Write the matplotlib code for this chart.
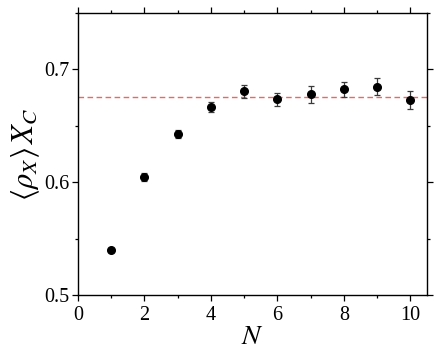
import matplotlib.pyplot as plt
from matplotlib.ticker import MultipleLocator

plt.rcParams['font.family'] = 'serif'
plt.rcParams['font.serif'] = ['Liberation Serif', 'DejaVu Serif']
plt.rcParams['mathtext.fontset'] = 'stix'

n_values = [1, 2, 3, 4, 5, 6, 7, 8, 9, 10]
rho_xc = [0.540, 0.6045, 0.643, 0.6665, 0.6805, 0.6735, 0.678, 0.6823, 0.6847, 0.6726]
rho_err = [0.002, 0.0035, 0.0035, 0.0045, 0.0055, 0.006, 0.0074, 0.007, 0.0078, 0.008]
limit_value = 0.6755

fig = plt.figure(figsize=(4.36, 3.54), dpi=100)
ax = fig.add_axes([0.179, 0.167, 0.800, 0.796])

ax.axhline(limit_value, color='#f06464', lw=1.0, ls=(0, (4, 2.5)), zorder=1)
ax.errorbar(n_values, rho_xc, yerr=rho_err, fmt='o', color='black', ms=5.5,
            ecolor='#3a3a3a', elinewidth=0.9, capsize=2.5, capthick=0.9, zorder=3)

ax.set_xlim(0, 10.5)
ax.set_ylim(0.5, 0.75)
ax.xaxis.set_major_locator(MultipleLocator(2))
ax.xaxis.set_minor_locator(MultipleLocator(1))
ax.yaxis.set_major_locator(MultipleLocator(0.1))
ax.yaxis.set_minor_locator(MultipleLocator(0.05))
ax.tick_params(which='both', direction='out', top=True, right=True,
               labelsize=14.5, width=0.9)
ax.tick_params(axis='x', pad=4)
ax.tick_params(axis='y', pad=2)
ax.tick_params(which='major', length=4)
ax.tick_params(which='minor', length=2)
for s in ax.spines.values():
    s.set_linewidth(1.0)

ax.set_xlabel(r'$N$', fontsize=20, labelpad=0)
ax.set_ylabel(r'$\langle\rho_X\rangle\, X_C$', fontsize=22, labelpad=2)

fig.savefig('out.png', dpi=100)
plt.close(fig)
